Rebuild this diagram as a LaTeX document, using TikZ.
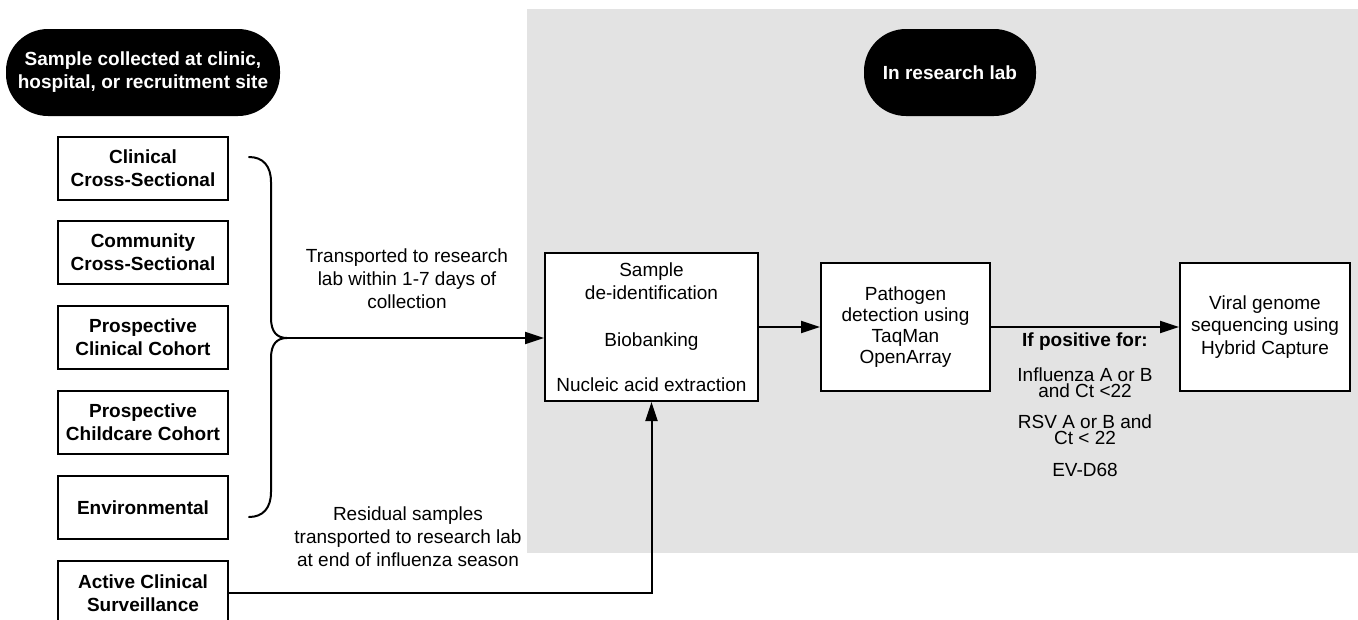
\documentclass[tikz,border=0pt]{standalone}
\usepackage{fontspec}
\setmainfont{Liberation Sans}
\usetikzlibrary{arrows.meta}
\definecolor{labgray}{RGB}{227,227,227}
\begin{document}
\begin{tikzpicture}[x=1pt,y=-1pt,
  txt/.style={font=\fontsize{19}{23}\selectfont, align=center, inner sep=0pt},
  pill/.style={fill=black, text=white, font=\fontsize{19}{23}\selectfont\bfseries, align=center, rounded corners=42pt, inner sep=0pt},
  srcbox/.style={draw, line width=2pt, fill=white, minimum width=170pt, minimum height=63pt, font=\fontsize{19}{23}\selectfont\bfseries, align=center, inner sep=0pt},
  labbox/.style={draw, line width=2pt, fill=white, align=center, inner sep=0pt},
  conn/.style={line width=2pt, -{Triangle[length=19pt,width=12pt]}},
  bracestyle/.style={line width=2pt, line cap=round}]
\useasboundingbox (0,0) rectangle (1358,619);
\clip (0,0) rectangle (1358,619);
\fill[labgray] (527,9) rectangle (1358,553);

\node[pill, minimum width=274pt, minimum height=87pt] (site) at (143,72.5) {Sample collected at clinic,\\hospital, or recruitment site};
\node[pill, minimum width=172pt, minimum height=87pt] (lab) at (950,72.5) {In research lab};

\node[srcbox] (clin) at (143,168) {Clinical\\Cross-Sectional};
\node[srcbox] (comm) at (143,252.5) {Community\\Cross-Sectional};
\node[srcbox] (pcc) at (143,337.5) {Prospective\\Clinical Cohort};
\node[srcbox] (pch) at (143,422.5) {Prospective\\Childcare Cohort};
\node[srcbox] (env) at (143,507.5) {Environmental};
\node[srcbox, minimum height=64pt] (act) at (143,593) {Active Clinical\\Surveillance};

\node[labbox, minimum width=213pt, minimum height=148pt, font=\fontsize{19}{23}\selectfont] (samp) at (651.5,327) {Sample\\de-identification\\[24pt]Biobanking\\[22pt]Nucleic acid extraction};
\node[labbox, minimum width=169pt, minimum height=128pt, font=\fontsize{19}{21}\selectfont] (path) at (905.5,327) {Pathogen\\detection using\\TaqMan\\OpenArray};
\node[labbox, minimum width=170pt, minimum height=128pt, font=\fontsize{19}{22.5}\selectfont] (viral) at (1265,327) {Viral genome\\sequencing using\\Hybrid Capture};

\node[txt] (tr) at (407,279) {Transported to research\\lab within 1-7 days of\\collection};
\node[txt] (res) at (408,537) {Residual samples\\transported to research lab\\at end of influenza season};

\node[txt, font=\fontsize{19}{23}\selectfont\bfseries] (ifpos) at (1085,342) {If positive for:};
\node[txt, font=\fontsize{19}{16}\selectfont] (flu) at (1085,382.5) {Influenza A or B\\and Ct <22};
\node[txt, font=\fontsize{19}{16}\selectfont] (rsv) at (1085,429.5) {RSV A or B and\\Ct < 22};
\node[txt] (ev) at (1085,470) {EV-D68};

\coordinate (b1) at (249,157);
\coordinate (b2) at (249,517);
\coordinate (tip) at (287,338);
\draw[bracestyle] (b1) .. controls (263,157) and (271,166) .. (271,182) -- (271,318) .. controls (271,332) and (277,338) .. (tip);
\draw[bracestyle] (b2) .. controls (263,517) and (271,508) .. (271,492) -- (271,358) .. controls (271,344) and (277,338) .. (tip);

\draw[conn] (tip) -- (tip -| samp.west);
\draw[conn] (samp.east) -- (path.west);
\draw[conn] (path.east) -- (viral.west);
\draw[conn] (act.east) -| (samp.south);
\end{tikzpicture}
\end{document}
